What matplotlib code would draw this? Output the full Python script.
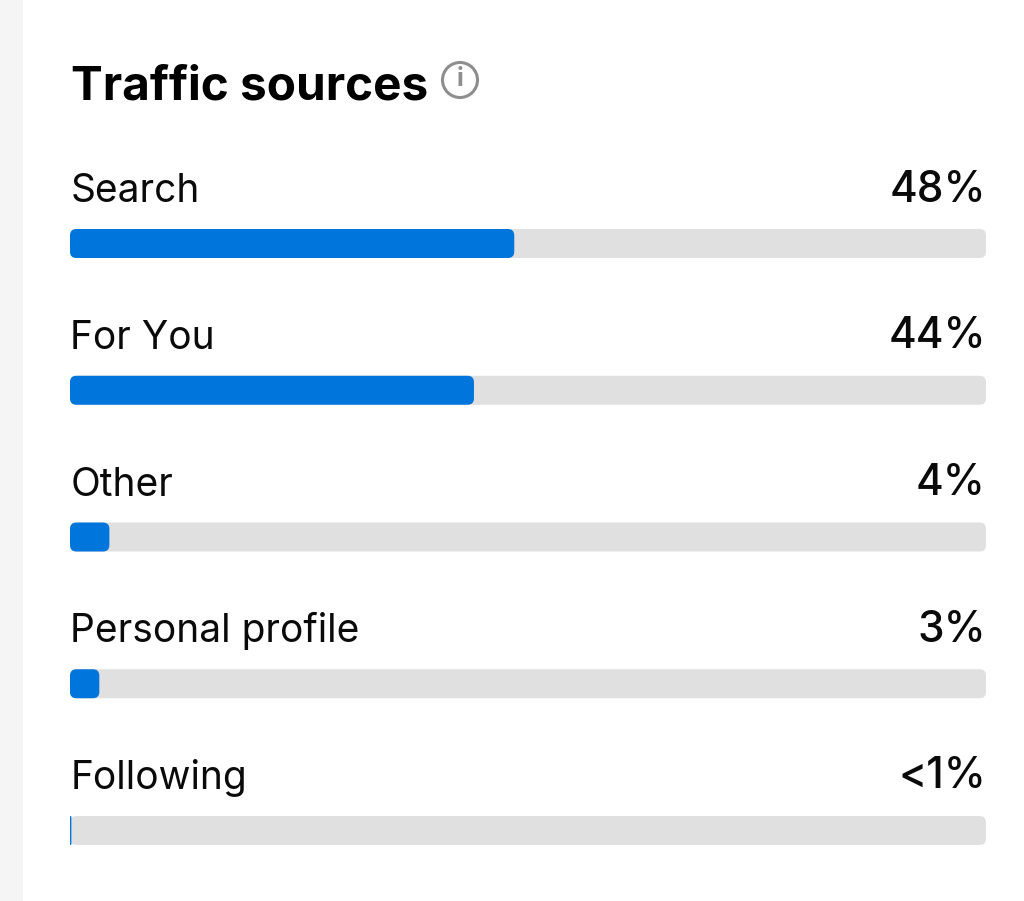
import matplotlib
matplotlib.use("Agg")
import matplotlib.pyplot as plt
from matplotlib.patches import Circle, FancyBboxPatch, Rectangle
from matplotlib.transforms import IdentityTransform

W, H = 1024, 901

sources = ["Search", "For You", "Other", "Personal profile", "Following"]
shares = [48.5, 44.1, 4.3, 3.2, 0.15]
share_labels = ["48%", "44%", "4%", "3%", "<1%"]

plt.rcParams['font.family'] = ['Inter', 'DejaVu Sans']

fig = plt.figure(figsize=(W / 100, H / 100), dpi=100, facecolor="white")

# pale strip down the left edge of the screenshot
fig.add_artist(Rectangle((0, 0), 23 / W, 1, transform=fig.transFigure,
                         facecolor="#f5f5f5", edgecolor="none"))

# axes spans the track width, one y unit is one row (146.75 px)
row_px = 146.75
px_per_pct = 916 / 100
ax = fig.add_axes([70 / W, 0, 916 / W, 1])
ax.set_xlim(0, 100)
ax.set_ylim((H - 243.5) / row_px, -243.5 / row_px)
ax.axis("off")

bar_h = 29 / row_px
aspect = (1 / row_px) / (1 / px_per_pct)


def rounded_bar(y, width, color, radius=0.7):
    # very thin bars cannot carry the rounded corners
    r = min(radius, width / 2)
    patch = FancyBboxPatch((0, y - bar_h / 2), width, bar_h,
                           boxstyle=f"round,pad=0,rounding_size={r}",
                           mutation_aspect=aspect,
                           facecolor=color, edgecolor="none")
    ax.add_patch(patch)


for i, (name, val, lab) in enumerate(zip(sources, shares, share_labels)):
    rounded_bar(i, 100, "#e0e0e0")
    rounded_bar(i, val, "#0075db")
    ax.text(0.05, i - 41.5 / row_px, name, fontsize=28, color="#0a0a0a",
            ha="left", va="baseline")
    ax.text(100.0, i - 42 / row_px, lab, fontsize=30.5, fontweight="medium",
            color="#0a0a0a", ha="right", va="baseline")

fig.text(71 / W, 1 - 99 / H, "Traffic sources", fontsize=34.3, fontweight="bold",
         color="black", ha="left", va="baseline")

# info icon next to the title
fig.add_artist(Circle((460, H - 80), 17.5, transform=IdentityTransform(),
                      facecolor="none", edgecolor="#8e8e8e", linewidth=2.2))
fig.text(460 / W, 1 - 80 / H, "i", fontsize=18, fontweight="bold", color="#8e8e8e",
         ha="center", va="center")

fig.savefig("out.png", dpi=100)
